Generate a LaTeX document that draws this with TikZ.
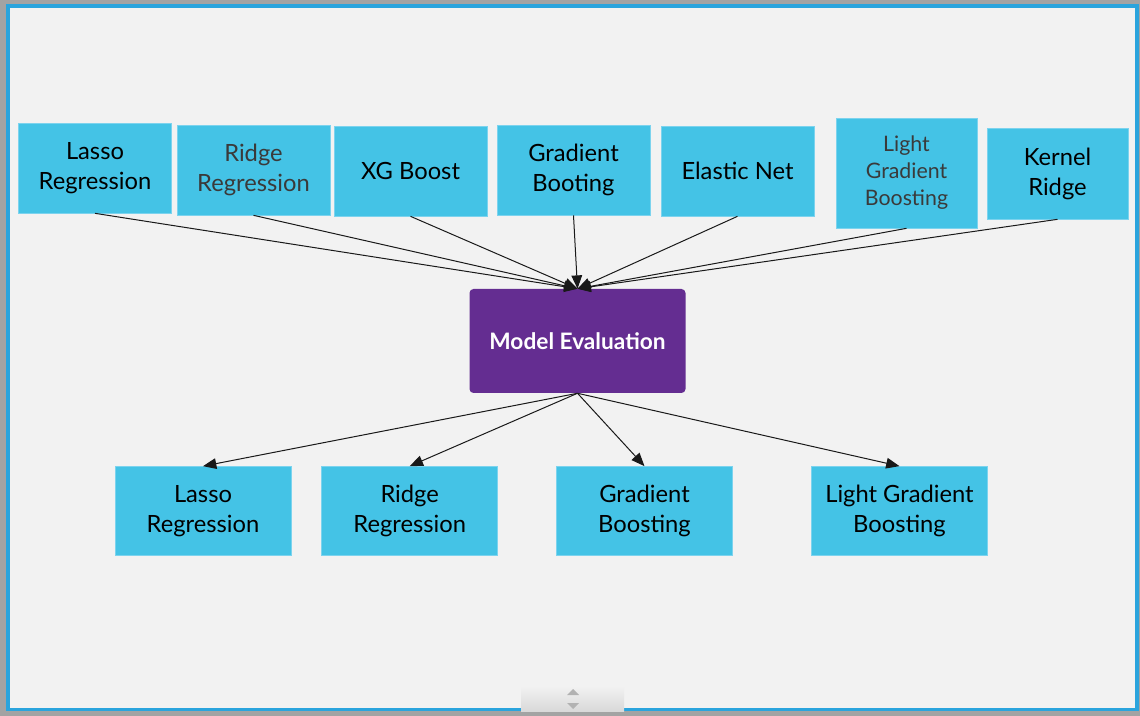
\documentclass[tikz,border=0pt]{standalone}
\usepackage{fontspec}
\setmainfont{Lato}
\usetikzlibrary{arrows.meta}
\definecolor{boxblue}{HTML}{44C3E6}
\definecolor{boxedge}{HTML}{7CD3EE}
\definecolor{evalpurple}{HTML}{642D91}
\definecolor{pagegray}{HTML}{F2F2F2}
\definecolor{framegray}{HTML}{A3A3A3}
\definecolor{frameblue}{HTML}{2AA4DD}
\definecolor{softtext}{HTML}{3A3A3A}
\tikzset{
  algo/.style={rectangle,fill=boxblue,draw=boxedge,line width=0.5pt,align=center,
    inner sep=0pt,minimum width=114.75pt,minimum height=67.5pt,
    font=\fontsize{17.8}{22.5}\selectfont},
  narrow/.style={minimum width=105.75pt},
  result/.style={algo,minimum width=132pt,minimum height=66.75pt},
  evalbox/.style={rectangle,rounded corners=3pt,fill=evalpurple,text=white,
    minimum width=162pt,minimum height=78pt,inner sep=0pt,
    font=\fontsize{17}{20}\selectfont\bfseries},
  link/.style={draw=black!90,line width=0.75pt,-{Triangle[length=10pt,width=8pt]}}
}
\begin{document}
\begin{tikzpicture}[x=0.75pt,y=-0.75pt]
\useasboundingbox (0,0) rectangle (1140,716);
% frame of the screenshot
\fill[framegray] (0,0) rectangle (1140,716);
\fill[frameblue] (6,4) rectangle (1139,711);
\fill[pagegray] (10,8) rectangle (1135,708);
% scroll handle
\shade[top color=pagegray,bottom color=black!15] (521,686) rectangle (624,711);
\fill[black!30] (567,695) -- (573,689) -- (579,695) -- cycle;
\fill[black!30] (567,703) -- (573,709) -- (579,703) -- cycle;

% models
\node[algo] (lassoT) at (95,168) {Lasso\\Regression};
\node[algo,text=softtext] (ridgeT) at (253.5,170) {Ridge\\Regression};
\node[algo] (xgbT) at (410.5,171) {XG Boost};
\node[algo] (gbT) at (573.5,170) {Gradient\\Booting};
\node[algo] (enT) at (737.5,171) {Elastic Net};
\node[algo,narrow,minimum height=82.5pt,text=softtext,
  font=\fontsize{16}{20.25}\selectfont] (lgbT) at (906.5,173) {Light\\Gradient\\Boosting};
\node[algo,narrow,minimum height=68.25pt] (krT) at (1057.5,173.5) {Kernel\\Ridge};

\node[evalbox] (eval) at (577.5,341) {Model Evaluation};

% chosen models
\node[result] (lassoB) at (203,511) {Lasso\\Regression};
\node[result] (ridgeB) at (409.7,511) {Ridge\\Regression};
\node[result] (gbB) at (644.5,511) {Gradient\\Boosting};
\node[result] (lgbB) at (899.5,511) {Light Gradient\\Boosting};

\foreach \n in {lassoT,ridgeT,xgbT,gbT,enT,lgbT,krT}
  \draw[link] (\n.south) -- (eval.north);
\foreach \n in {lassoB,ridgeB,gbB,lgbB}
  \draw[link] (eval.south) -- (\n.north);
\end{tikzpicture}
\end{document}
